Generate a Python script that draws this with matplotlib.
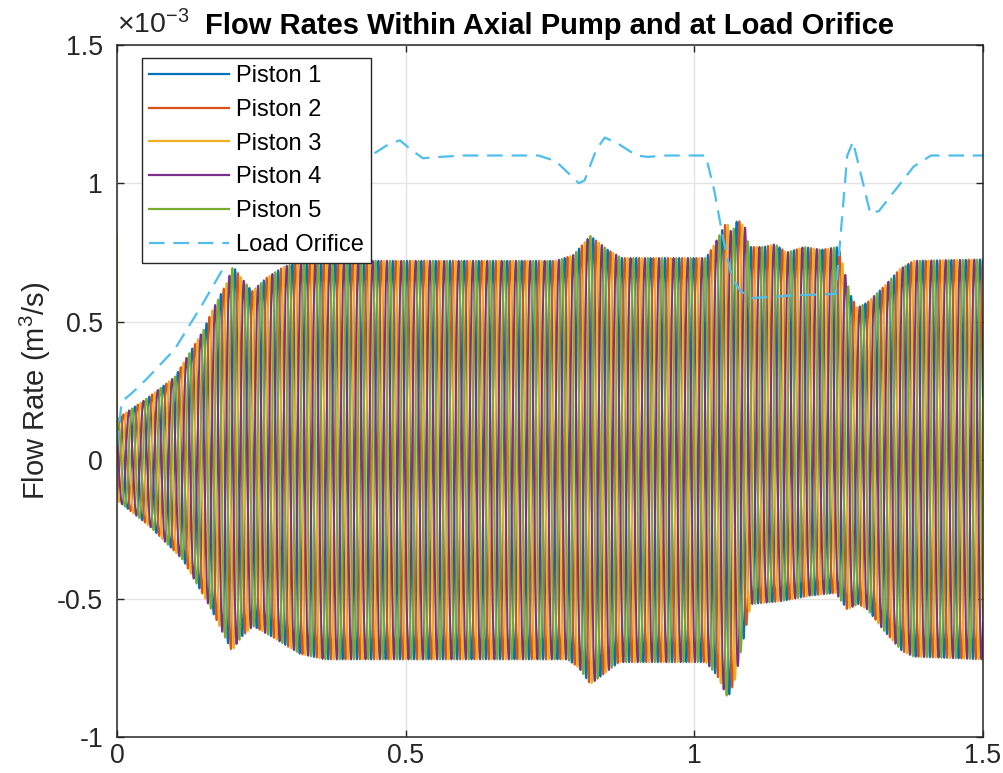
import numpy as np
import matplotlib
matplotlib.use('Agg')
import matplotlib.pyplot as plt

plt.rcParams['font.family'] = ['Liberation Sans', 'DejaVu Sans']
plt.rcParams['mathtext.fontset'] = 'custom'
plt.rcParams['mathtext.rm'] = 'Liberation Sans'
plt.rcParams['mathtext.default'] = 'regular'

# all flow values in 1e-3 m^3/s
piston_names = ['Piston 1', 'Piston 2', 'Piston 3', 'Piston 4', 'Piston 5']
piston_freq = 40.3  # Hz, read from stripe spacing

# upper / lower envelope of the piston flows
upper_t = [0.0, 0.05, 0.10, 0.15, 0.165, 0.19, 0.201, 0.215, 0.234, 0.26, 0.29, 0.32,
           0.40, 0.76, 0.79, 0.82, 0.85, 0.875, 1.02, 1.035, 1.056, 1.065, 1.075, 1.088,
           1.095, 1.12, 1.14, 1.16, 1.19, 1.22, 1.25, 1.258, 1.27, 1.282, 1.30, 1.33,
           1.356, 1.38, 1.50]
upper_q = [0.15, 0.22, 0.30, 0.47, 0.54, 0.64, 0.70, 0.66, 0.61, 0.66, 0.70, 0.715,
           0.72, 0.72, 0.74, 0.81, 0.76, 0.73, 0.73, 0.78, 0.86, 0.82, 0.87, 0.84,
           0.77, 0.77, 0.78, 0.75, 0.77, 0.76, 0.77, 0.70, 0.60, 0.55, 0.57, 0.63,
           0.69, 0.72, 0.725]
lower_t = [0.0, 0.057, 0.114, 0.161, 0.18, 0.199, 0.215, 0.236, 0.27, 0.317, 0.36,
           0.78, 0.80, 0.82, 0.845, 0.87, 1.02, 1.04, 1.058, 1.07, 1.085, 1.095, 1.10,
           1.15, 1.20, 1.245, 1.265, 1.284, 1.30, 1.33, 1.36, 1.38, 1.50]
lower_q = [-0.145, -0.24, -0.36, -0.53, -0.61, -0.69, -0.64, -0.60, -0.64, -0.70, -0.72,
           -0.72, -0.75, -0.81, -0.77, -0.73, -0.73, -0.78, -0.86, -0.80, -0.65, -0.55, -0.52,
           -0.51, -0.49, -0.48, -0.54, -0.52, -0.54, -0.62, -0.69, -0.71, -0.72]
piston3_start = 0.81

# load orifice flow
load_t = [0.0, 0.008, 0.03, 0.05, 0.10, 0.15, 0.20, 0.23, 0.27, 0.32, 0.37, 0.44, 0.47,
          0.49, 0.51, 0.53, 0.56, 0.60, 0.73, 0.76, 0.80, 0.81, 0.83, 0.845, 0.87, 0.90,
          0.92, 0.95, 1.02, 1.035, 1.05, 1.065, 1.08, 1.10, 1.17, 1.245, 1.255, 1.265,
          1.275, 1.29, 1.305, 1.32, 1.35, 1.38, 1.41, 1.50]
load_q = [0.05, 0.21, 0.25, 0.29, 0.40, 0.57, 0.75, 0.86, 0.96, 1.04, 1.08, 1.10, 1.14,
          1.155, 1.12, 1.09, 1.095, 1.10, 1.10, 1.08, 1.00, 1.01, 1.12, 1.165, 1.14, 1.10,
          1.095, 1.10, 1.10, 0.97, 0.80, 0.66, 0.61, 0.585, 0.595, 0.60, 0.85, 1.10,
          1.15, 1.02, 0.89, 0.90, 0.98, 1.06, 1.10, 1.10]

colors = ['#0072BD', '#D95319', '#EDB120', '#7E2F8E', '#77AC30']
load_color = '#4DBEEE'
txt = '#262626'

t = np.linspace(0, 1.5, 24000)
up = np.interp(t, upper_t, upper_q)
lo = np.interp(t, lower_t, lower_q)

fig = plt.figure(figsize=(10.04, 7.73), dpi=100)
ax = fig.add_axes([0.1165, 0.0466, 0.8625, 0.8955])

for k in range(5):
    s = np.sin(2*np.pi*piston_freq*t - 2*np.pi*k/5)
    q = np.where(s >= 0, up*s, -lo*s)
    tt, qq = t, q
    if k == 2:
        tt = np.r_[0.0, t]
        qq = np.r_[piston3_start, q]
    ax.plot(tt, qq, color=colors[k], lw=1.4, label=piston_names[k])

ax.plot(load_t, load_q, color=load_color, lw=1.6, dashes=(7, 4), label='Load Orifice')

ax.set_xlim(0, 1.5)
ax.set_ylim(-1, 1.5)
ax.set_xticks([0, 0.5, 1, 1.5])
ax.set_xticklabels(['0', '0.5', '1', '1.5'])
ax.set_yticks([-1, -0.5, 0, 0.5, 1, 1.5])
ax.set_yticklabels(['-1', '-0.5', '0', '0.5', '1', '1.5'])
ax.grid(True, color='#e3e3e3', lw=1.0)
ax.set_axisbelow(True)
ax.tick_params(direction='in', length=5, width=1.0, colors=txt, labelsize=19.3,
               top=True, right=True)
ax.tick_params(axis='x', pad=4)
ax.tick_params(axis='y', pad=10)
for sp in ax.spines.values():
    sp.set_color(txt)
    sp.set_linewidth(1.1)

ax.set_ylabel('Flow Rate (m$^3$/s)', fontsize=21, color=txt, labelpad=3)
ax.set_title('Flow Rates Within Axial Pump and at Load Orifice', fontsize=21,
             fontweight='bold', color='black', pad=8)
ax.text(0, 1.008, r'×10$^{-3}$', transform=ax.transAxes, fontsize=20.5, color=txt,
        ha='left', va='bottom')

leg = ax.legend(loc='upper left', bbox_to_anchor=(0.0289, 0.981), borderaxespad=0,
                fontsize=17, handlelength=3.4, handletextpad=0.3, labelspacing=0.5,
                fancybox=False, framealpha=1, edgecolor=txt, borderpad=0.3)
leg.get_frame().set_linewidth(1.0)
for lh in leg.get_lines():
    lh.set_linewidth(1.6)

fig.savefig('out.png', dpi=100)
